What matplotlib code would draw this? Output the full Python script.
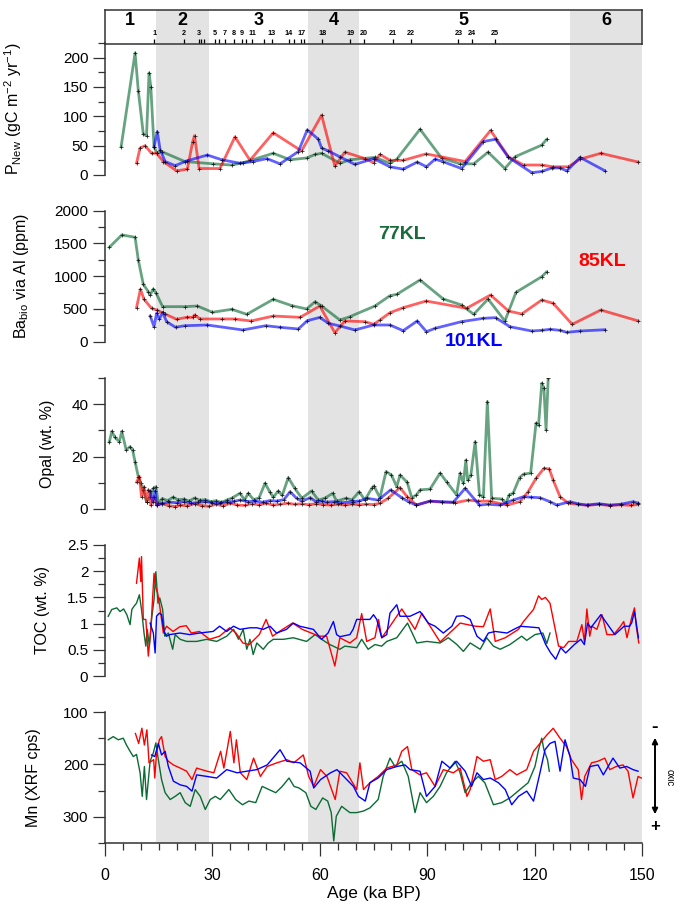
import matplotlib
matplotlib.use("Agg")
import matplotlib.pyplot as plt
from matplotlib.ticker import MultipleLocator

plt.rcParams['font.family'] = ['Liberation Sans', 'DejaVu Sans']

# ---- DATA ----
# new production
pnew77_age = [4.5, 8.4, 9.3, 10.7, 11.6, 12.3, 12.8, 13.7, 14.4, 15.8, 22.3, 30.3, 35.4, 38.6, 47.0, 51.7,
              56.3, 58.7, 60.5, 65.6, 68.4, 75.4, 79.6, 81.5, 88.0, 94.0, 99.2, 103.0, 107.0, 111.7, 114.5,
              122.0, 123.4]
pnew77 = [48, 208, 144, 70, 67, 174, 150, 48, 38, 40, 23, 19, 17, 21, 37, 26, 29, 35, 37, 20, 26, 30, 20, 27,
          78, 29, 19, 19, 39, 11, 31, 51, 61]
pnew85_age = [8.8, 9.8, 11.2, 13.0, 14.4, 16.3, 20.0, 23.0, 24.5, 25.0, 26.3, 32.1, 36.3, 40.5, 47.0, 54.9,
              60.5, 64.2, 67.0, 72.6, 75.0, 76.8, 79.6, 83.3, 89.7, 100.6, 107.7, 112.7, 116.9, 122.0, 125.2,
              129.4, 132.7, 138.5, 149.0]
pnew85 = [20, 46, 50, 37, 37, 23, 7, 10, 57, 67, 11, 11, 65, 25, 72, 41, 102, 15, 39, 28, 21, 35, 25, 25, 36,
          23, 76, 31, 17, 17, 14, 14, 27, 37, 22]
pnew101_age = [13.7, 14.6, 15.4, 16.8, 19.6, 22.8, 28.6, 32.6, 37.7, 41.4, 45.2, 48.9, 54.0, 56.5, 59.6, 60.5,
               62.4, 65.6, 69.8, 75.0, 79.6, 83.3, 87.2, 89.8, 92.2, 94.3, 99.6, 105.7, 109.1, 112.7, 119.2,
               122.0, 124.8, 127.1, 129.0, 132.7, 139.7]
pnew101 = [48, 74, 43, 23, 16, 24, 34, 26, 20, 23, 28, 19, 40, 77, 61, 46, 41, 31, 18, 28, 14, 10, 22, 14, 27,
           23, 11, 57, 61, 30, 4, 6, 12, 12, 7, 30, 7]

# Ba bio
ba77_age = [1.2, 4.7, 8.4, 9.3, 10.7, 12.1, 12.6, 13.5, 14.3, 16.1, 22.3, 25.8, 30.0, 35.4, 39.6, 47.0, 52.2,
            56.3, 58.7, 60.5, 65.6, 68.4, 75.4, 79.6, 81.5, 88.0, 94.5, 99.6, 103.0, 107.0, 111.7, 114.8,
            122.0, 123.4]
ba77 = [1441, 1630, 1594, 1248, 876, 764, 713, 805, 739, 535, 535, 545, 449, 495, 418, 647, 550, 500, 611, 545,
        331, 382, 545, 702, 723, 942, 652, 560, 418, 652, 316, 754, 993, 1069]
ba85_age = [8.8, 9.9, 10.9, 13.0, 14.4, 16.8, 20.0, 22.8, 24.5, 25.0, 26.6, 32.6, 36.3, 40.8, 47.0, 54.5, 60.0,
            64.2, 67.0, 72.6, 75.0, 76.8, 79.6, 83.3, 89.7, 101.0, 107.7, 112.7, 116.4, 122.0, 125.2, 130.5,
            138.5, 149.0]
ba85 = [519, 800, 647, 510, 484, 423, 342, 372, 372, 408, 347, 347, 347, 316, 392, 372, 545, 137, 316, 306, 265,
        331, 443, 519, 621, 510, 713, 469, 423, 637, 586, 265, 484, 316]
ba101_age = [12.6, 13.7, 14.4, 15.2, 16.1, 17.2, 19.7, 22.3, 28.6, 38.5, 44.9, 48.9, 54.0, 56.5, 60.0, 62.4,
             65.6, 69.8, 75.0, 79.6, 83.3, 87.2, 89.8, 92.2, 99.6, 105.7, 109.1, 113.1, 119.2, 122.0, 124.3,
             127.1, 129.0, 132.7, 139.7]
ba101 = [397, 229, 433, 347, 449, 306, 220, 244, 255, 179, 244, 220, 194, 321, 370, 281, 240, 179, 255, 255, 168,
         316, 153, 204, 306, 357, 367, 229, 163, 174, 189, 174, 143, 163, 183]

# opal
opal77_age = [1.2, 1.9, 2.8, 4.0, 4.7, 5.9, 7.0, 7.7, 8.4, 9.3, 10.0, 10.7, 11.6, 12.6, 13.5, 14.2, 14.9,
              16, 17.5, 19, 20.5, 22, 23.5, 25, 26.5, 28, 29.5, 31, 32.5, 34, 35.5,
              37.7, 39, 40, 41.5, 43, 44.7, 46, 47, 48.4, 49.5, 51.2, 53, 55, 57.7, 59.6, 61.5, 63.6, 64.7,
              67.3, 69, 71, 72.6, 74.5, 75.1, 76.8, 78.5, 80, 81.5, 82.4, 84.4, 85.7, 87, 88, 90.8, 93.6, 95.4,
              98.2, 99.2, 100.1, 100.8, 101.3, 102.2, 103.4, 104.6, 105.7, 106.8, 108, 110.8, 112, 112.9, 114,
              115.8, 116.9, 118.9, 120.4, 121.1, 122, 122.6, 123.2, 123.8]
opal77 = [25.5, 29.6, 27.3, 25.7, 29.6, 22.6, 23.8, 22.6, 18, 12.4, 9.8, 7.3, 2.8, 4.7, 7.9, 8.5, 2.2,
          4.0, 3.2, 4.5, 3.5, 3.8, 3.0, 4.2, 3.3, 3.6, 2.8, 3.2, 2.5, 3.4, 4.2,
          6.0, 3.5, 6.0, 3.6, 4.2, 9.8, 6.6, 4.5, 6.9, 5.2, 12, 7.9, 4.1, 6.9, 3.4, 4.2, 6.0, 3.0,
          4.1, 3.5, 6.6, 3.4, 7.9, 8.8, 4.3, 14.3, 13, 8.5, 13, 10.2, 4.3, 5.4, 7.3, 7.6, 13.7, 10.4,
          5.4, 13.7, 9.8, 18.7, 11, 13, 25.7, 5.4, 4.7, 41, 4.1, 3.8, 2.2, 5.4, 6.0,
          12, 13.3, 13.7, 32.8, 31.9, 48, 46.2, 30.2, 50]
opal85_age = [8.8, 9.6, 10.2, 10.9, 11.6, 12.1, 12.8, 13.7, 14.4,
              16, 18, 19.6, 21, 23, 25, 27, 29, 31, 33, 35, 37, 39, 41, 43, 45, 47, 49, 51, 53, 55, 57, 59, 61,
              63, 65, 67, 69, 71, 73, 75,
              76.8, 79.1, 82.4, 84.4, 87, 90.8, 94, 97.8, 101.5, 104.3, 107.5, 112.2, 115.9, 118.2, 120.4,
              122.6, 124.1, 125.2, 127.1, 129.4,
              132, 135, 138, 141, 144, 147, 149]
opal85 = [10.2, 12.4, 4.7, 8.5, 2.8, 7.3, 1.5, 4.7, 1.5,
          2.0, 1.2, 0.9, 1.5, 1.2, 2.0, 1.3, 1.0, 1.8, 1.2, 2.2, 1.5, 1.4, 2.0, 1.6, 2.2, 1.5, 1.8, 2.2, 1.8,
          2.0, 1.6, 2.0, 1.7, 1.5, 1.8, 1.5, 1.9, 1.6, 1.8, 1.7,
          2.2, 4.1, 8.2, 4.7, 1.5, 3.0, 2.6, 2.4, 3.4, 3.0, 3.0, 1.5, 2.8, 6.6, 11.7, 15.5, 15.3, 11, 4.7, 2.2,
          1.8, 1.4, 1.8, 1.3, 1.6, 1.4, 1.8]
opal101_age = [12.6, 13.3, 14.0, 14.4,
               16, 18, 20, 22, 24, 26, 28, 30, 32, 34, 36,
               37.7, 40, 42, 44, 46, 48, 50, 51.7, 53.5, 55, 57.3, 59, 60.5, 62, 64, 66,
               69.4, 71, 73.1, 76.3, 79.8, 82.9, 85, 87, 90.8, 94, 97.3, 100.6, 104.6, 107, 110.3, 114, 116.9,
               119, 121.5, 124.3, 126.2, 129.9,
               132, 134.5, 138, 141, 144, 147.6, 149]
opal101 = [6.9, 2.8, 6.9, 1.5,
           2.2, 2.6, 2.4, 2.8, 2.2, 2.5, 2.8, 2.4, 2.2, 2.6, 2.9,
           3.4, 2.8, 3.0, 2.6, 3.2, 3.0, 3.6, 6.6, 4.1, 3.0, 4.3, 2.8, 3.0, 2.6, 2.8, 2.4,
           2.8, 3.0, 4.1, 3.4, 7.3, 4.3, 2.6, 1.5, 3.0, 2.8, 2.6, 7.9, 1.5, 1.8, 1.5, 3.4, 4.7, 4.5, 4.3, 2.8,
           1.5, 2.8,
           2.0, 1.5, 2.0, 1.5, 1.8, 2.8, 2.2]

# TOC
toc77_age = [0.9, 1.9, 3.3, 4.2, 5.2, 6.1, 7.0, 7.5, 8.1, 8.8, 9.6, 10.2, 10.9, 11.4, 11.8, 12.4, 13.0, 13.7,
             14.2, 14.8, 15.3, 16.1, 16.7, 17.7, 18.9, 19.6, 21.0, 22.8, 25.6, 28.4, 31.2, 34.0, 35.9, 37.3,
             38.6, 39.6, 40.5, 41.4, 42.4, 44.2, 45.6, 47.0, 49.8, 52.6, 56.3, 58.7, 60.5, 62.8, 65.6, 67.0,
             70.3, 71.7, 73.5, 75.4, 77.3, 78.7, 81.5, 84.5, 87.1, 89.9, 93.6, 95.9, 98.3, 100.1, 102.0, 104.8,
             106.6, 108.5, 110.4, 113.1, 116.4, 117.8, 120.1, 122.3, 123.4, 124.3]
toc77 = [1.14, 1.27, 1.30, 1.23, 1.28, 1.17, 0.98, 1.27, 1.33, 1.39, 1.55, 1.27, 0.82, 0.57, 0.89, 0.57, 1.08,
         1.46, 1.99, 1.39, 1.49, 1.27, 0.76, 0.82, 0.51, 0.79, 0.70, 0.66, 0.66, 0.70, 0.66, 0.76, 0.89, 0.70,
         0.89, 0.51, 0.70, 0.41, 0.63, 0.51, 0.63, 0.70, 0.70, 0.73, 0.66, 0.79, 0.70, 0.60, 0.51, 0.57, 0.54,
         0.70, 0.51, 0.60, 0.57, 0.66, 0.73, 1.01, 0.63, 0.66, 0.63, 0.73, 0.60, 0.47, 0.63, 0.51, 0.73, 0.57,
         0.51, 0.60, 0.76, 0.68, 0.79, 0.82, 0.62, 0.82]
toc85_age = [8.8, 9.6, 10.0, 10.2, 10.7, 11.4, 12.1, 12.8, 13.7, 14.1, 14.7, 15.3, 16.3, 17.2, 19.0, 20.9, 22.7,
             24.1, 26.4, 29.2, 32.0, 34.8, 36.6, 38.5, 40.3, 43.1, 45.0, 46.8, 49.6, 52.4, 55.1, 59.8, 61.9,
             64.2, 65.6, 68.4, 70.3, 71.7, 73.1, 75.4, 76.4, 77.3, 79.6, 82.9, 86.6, 88.5, 93.6, 99.2, 103.4,
             105.7, 107.6, 109.0, 111.8, 115.5, 116.9, 119.7, 121.1, 122.0, 123.0, 124.3, 126.7, 128.1, 129.5,
             131.8, 133.2, 133.9, 134.6, 135.4, 136.0, 137.4, 138.8, 140.2, 142.1, 144.0, 144.9, 145.8, 147.2,
             147.9, 148.4, 149.1]
toc85 = [1.77, 2.25, 1.80, 2.28, 1.08, 1.08, 0.38, 0.89, 1.96, 1.71, 1.58, 1.33, 0.82, 0.95, 0.85, 0.94, 0.96,
         0.82, 0.85, 0.70, 0.76, 0.92, 0.82, 0.63, 0.60, 0.79, 1.08, 0.76, 0.89, 1.01, 0.89, 0.76, 0.76, 0.19,
         0.73, 0.63, 0.73, 1.19, 0.66, 0.73, 1.08, 0.73, 0.95, 1.28, 0.89, 1.20, 0.65, 1.01, 0.95, 0.94, 1.28,
         0.66, 0.73, 0.89, 1.04, 1.27, 1.53, 1.46, 1.50, 1.39, 0.57, 0.54, 0.66, 0.66, 0.98, 0.66, 1.28, 0.76,
         0.95, 0.89, 1.17, 0.79, 0.79, 0.95, 1.04, 0.73, 1.14, 1.30, 0.95, 0.63]
toc101_age = [12.6, 13.5, 14.0, 14.4, 15.2, 15.8, 16.5, 17.2, 18.1, 20.9, 23.7, 26.4, 30.2, 32.0, 34.0, 35.9,
              37.7, 40.5, 42.4, 44.2, 46.1, 47.9, 50.7, 52.6, 54.4, 56.3, 58.2, 60.5, 62.3, 63.8, 64.7, 65.6,
              68.4, 69.3, 70.3, 71.7, 74.0, 75.0, 75.9, 77.3, 78.7, 79.6, 81.5, 82.4, 85.2, 88.0, 90.3, 92.2,
              94.5, 96.9, 98.2, 100.1, 102.0, 103.9, 105.7, 107.1, 109.0, 112.3, 114.2, 116.0, 121.2, 123.1,
              124.5, 125.9, 127.3, 128.7, 131.1, 132.9, 133.9, 134.8, 135.7, 138.5, 139.4, 142.4, 145.0, 146.5,
              147.1, 147.9, 149.0]
toc101 = [1.01, 0.82, 0.44, 1.14, 1.20, 1.17, 0.85, 0.76, 0.79, 0.82, 0.79, 0.82, 0.85, 0.95, 0.85, 0.95, 0.89,
          0.92, 0.92, 0.89, 0.95, 0.82, 0.89, 1.01, 0.95, 0.92, 0.89, 0.70, 0.82, 1.04, 0.79, 0.75, 0.79, 0.89,
          1.08, 1.08, 1.08, 1.17, 1.08, 0.73, 0.79, 1.20, 1.36, 1.14, 1.14, 1.23, 1.01, 0.95, 0.82, 0.95, 1.14,
          1.15, 1.08, 0.76, 0.66, 0.82, 0.85, 0.82, 0.89, 0.95, 0.92, 0.60, 0.44, 0.32, 0.54, 0.44, 0.60, 0.70,
          0.60, 1.01, 0.92, 1.17, 1.08, 0.79, 0.95, 0.95, 1.01, 1.23, 0.73]

# Mn XRF
mn77_age = [0.9, 2.3, 3.7, 5.1, 6.0, 7.0, 7.9, 8.8, 9.8, 10.4, 11.0, 11.6, 12.6, 13.5, 14.2, 14.9, 15.8, 16.8,
            18.2, 19.6, 21.0, 22.4, 23.8, 25.2, 26.6, 28.0, 29.4, 30.8, 32.2, 34.6, 36.5, 38.4, 40.2, 42.1,
            43.9, 45.8, 47.7, 49.5, 51.4, 52.8, 54.2, 56.1, 57.5, 58.9, 60.8, 62.2, 63.2, 63.9, 64.6,
            66.1, 68.4, 70.3, 72.2, 74.0, 76.3, 77.7, 79.6, 81.0, 82.9, 84.7, 86.6, 88.0, 89.8, 91.7, 93.6,
            95.4, 97.8, 99.2, 100.6, 102.4, 104.3, 106.1, 108.5, 110.8, 113.1, 115.9, 118.2, 120.1, 121.1,
            122.0, 122.6, 123.6, 124.1]
mn77 = [153, 147, 153, 150, 163, 175, 185, 181, 216, 261, 204, 267, 194, 178, 159, 191, 229, 254, 267, 261, 254,
        273, 280, 248, 261, 286, 267, 261, 267, 248, 267, 277, 270, 273, 242, 248, 254, 242, 226, 242, 245, 254,
        280, 286, 264, 270, 292, 346, 299,
        280, 292, 292, 289, 283, 267, 223, 188, 204, 194, 223, 292, 254, 273, 261, 242, 216, 194, 216, 254, 235,
        223, 235, 277, 273, 264, 248, 235, 204, 172, 150, 172, 191, 213]
mn85_age = [8.5, 9.4, 10.3, 11.0, 11.7, 12.3, 13.6, 13.9, 14.4, 15.2, 15.8, 16.8, 17.7, 19.1, 21.0, 22.8, 24.3,
            25.6, 27.0, 28.5, 30.4, 32.3, 33.2, 35.0, 36.0, 36.7, 37.8, 39.6, 41.5, 43.4, 45.3, 48.0, 50.8,
            52.7, 55.4, 56.9, 58.3, 60.2, 62.0, 64.3,
            65.6, 67.5, 70.3, 71.2, 72.2, 74.0, 76.3, 78.7, 81.5, 82.9, 84.5, 85.7, 88.0, 89.8, 92.2, 94.5,
            97.3, 99.2, 101.1, 102.0, 103.9, 105.7, 107.6, 109.0, 110.8, 113.1, 115.0, 117.8, 119.7, 121.5,
            123.4, 125.2, 127.1, 128.9, 130.3, 132.2, 133.1, 134.0, 135.9, 137.7, 139.6, 141.0, 142.8, 144.7,
            146.1, 147.5, 148.9, 149.8]
mn85 = [141, 160, 131, 163, 134, 197, 191, 226, 178, 153, 147, 185, 194, 201, 207, 213, 229, 207, 210, 213, 216,
        175, 207, 137, 197, 153, 216, 229, 188, 223, 204, 197, 191, 197, 182, 223, 242, 210, 223, 267,
        213, 216, 248, 197, 248, 235, 223, 207, 201, 175, 166, 210, 220, 216, 242, 210, 216, 207, 261, 248, 185,
        194, 191, 229, 223, 210, 220, 210, 175, 160, 144, 131, 150, 166, 191, 210, 267, 223, 197, 194, 188, 210,
        204, 201, 213, 264, 223, 226]
mn101_age = [13.0, 13.9, 14.9, 15.8, 16.8, 17.7, 19.1, 21.0, 22.8, 24.3, 25.6, 28.5, 31.2, 34.0, 36.9, 39.6,
             42.4, 45.3, 48.9, 50.8, 54.5, 57.3, 58.3, 60.2, 63.0, 64.8,
             67.1, 69.4, 70.8, 72.7, 74.0, 76.3, 78.7, 81.5, 83.8, 85.2, 88.0, 89.8, 92.2, 94.1, 96.4, 98.2,
             100.6, 102.4, 103.9, 105.7, 107.6, 109.9, 111.8, 113.6, 115.5, 117.8, 119.7, 121.5, 122.9, 124.3,
             125.7, 127.1, 128.5, 129.9, 130.8, 132.7, 134.2, 135.5, 137.7, 139.2, 141.9, 143.8, 145.7, 147.5,
             148.9]
mn101 = [182, 185, 160, 182, 175, 204, 232, 239, 242, 251, 220, 223, 226, 210, 216, 213, 210, 201, 172, 194, 197,
         213, 245, 229, 216, 210,
         226, 242, 261, 270, 235, 226, 210, 204, 201, 210, 213, 261, 242, 194, 207, 194, 213, 242, 216, 229, 226,
         235, 248, 277, 261, 251, 270, 216, 172, 160, 156, 213, 153, 185, 226, 229, 242, 204, 201, 220, 188, 207,
         204, 210, 213]

# marine isotope stages (shaded = glacial) and Greenland interstadials
mis_labels = ['1', '2', '3', '4', '5', '6']
mis_centers = [7, 21.5, 43, 64, 100, 140]
mis_shaded = [(14.2, 29.0), (56.8, 71.0), (130.0, 150.0)]
gi_labels = ['1', '2', '3', '5', '7', '8', '9', '11', '13', '14', '17', '18', '19', '20', '21', '22', '23',
             '24', '25']
gi_ages = [13.8, 22.0, 26.3, 30.7, 33.5, 36.1, 38.2, 41.1, 46.6, 51.4, 54.8, 60.7, 68.5, 72.4, 80.4, 85.4,
           98.7, 102.5, 109.0]
gi_unlabelled = [26.9, 27.6, 31.8, 39.3, 44.3, 52.9, 55.7]

GREEN = '#0b6b34'
RED = '#ff0000'
BLUE = '#0000ff'

W, H = 675, 909
fig = plt.figure(figsize=(W / 100, H / 100), dpi=100)


def px_axes(top, bottom, left=105, right=642):
    return fig.add_axes([left / W, 1 - bottom / H, (right - left) / W, (bottom - top) / H])


# shading behind everything
bg = px_axes(10, 843)
bg.set_xlim(0, 150)
for a, b in mis_shaded:
    bg.axvspan(a, b, color='#e3e3e3', lw=0)
bg.axis('off')

# MIS strip
top = px_axes(10, 44)
top.set_facecolor('none')
top.set_xlim(0, 150)
top.set_ylim(0, 1)
top.set_xticks([])
top.set_yticks([])
for s in top.spines.values():
    s.set_linewidth(1.1)
    s.set_color('#333333')
for lab, c in zip(mis_labels, mis_centers):
    top.text(c, 0.68, lab, ha='center', va='center', fontsize=13, fontweight='bold')
top.vlines(gi_ages, 0, 0.14, color='k', lw=0.9)
top.vlines(gi_unlabelled, 0, 0.14, color='k', lw=0.9)
for lab, a in zip(gi_labels, gi_ages):
    top.text(a, 0.2, lab, ha='center', va='bottom', fontsize=5.2, fontweight='bold')


def style_left(ax, ymin, ymax, major, minor, label, lab_x, bottom=False):
    ax.set_facecolor('none')
    ax.set_xlim(0, 150)
    ax.set_ylim(ymin, ymax)
    for side in ['top', 'right']:
        ax.spines[side].set_visible(False)
    if not bottom:
        ax.spines['bottom'].set_visible(False)
        ax.set_xticks([])
    ax.spines['left'].set_linewidth(1.1)
    ax.spines['left'].set_color('#333333')
    ax.yaxis.set_major_locator(MultipleLocator(major))
    ax.yaxis.set_minor_locator(MultipleLocator(minor))
    ax.tick_params(axis='y', which='major', length=9, width=0.9, labelsize=11, pad=3, color='#333333')
    ax.tick_params(axis='y', which='minor', length=5, width=0.9, color='#333333')
    ax.set_ylabel(label, fontsize=11.5)
    ax.yaxis.set_label_coords(lab_x, 0.5)


def thick(ax, x, y, color):
    ax.plot(x, y, color=color, lw=2.0, alpha=0.62, solid_capstyle='round')
    ax.plot(x, y, ls='none', marker='+', ms=3.2, mew=0.6, color='k', alpha=0.8)


# P new
ax1 = px_axes(43, 175)
style_left(ax1, 0, 225, 50, 25, r'P$_{\mathregular{New}}$ (gC m$^{\mathregular{-2}}$ yr$^{\mathregular{-1}}$)', -0.15)
thick(ax1, pnew77_age, pnew77, GREEN)
thick(ax1, pnew85_age, pnew85, RED)
thick(ax1, pnew101_age, pnew101, BLUE)

# Ba bio
ax2 = px_axes(210.7, 341.7)
style_left(ax2, 0, 2000, 500, 250, r'Ba$_{\mathregular{bio}}$ via Al (ppm)', -0.137)
thick(ax2, ba77_age, ba77, GREEN)
thick(ax2, ba85_age, ba85, RED)
thick(ax2, ba101_age, ba101, BLUE)
ax2.text(83, 1630, '77KL', color='#1a6b3c', fontsize=14, fontweight='bold', ha='center', va='center')
ax2.text(139, 1217, '85KL', color=RED, fontsize=14, fontweight='bold', ha='center', va='center')
ax2.text(103, 0, '101KL', color=BLUE, fontsize=14, fontweight='bold', ha='center', va='center')

# opal
ax3 = px_axes(378, 509)
style_left(ax3, 0, 50, 20, 10, 'Opal (wt. %)', -0.093)
thick(ax3, opal77_age, opal77, GREEN)
thick(ax3, opal85_age, opal85, RED)
thick(ax3, opal101_age, opal101, BLUE)

# TOC
ax4 = px_axes(545, 676)
style_left(ax4, 0, 2.5, 0.5, 0.25, 'TOC (wt. %)', -0.102)
ax4.yaxis.set_major_formatter(matplotlib.ticker.FuncFormatter(lambda v, p: f'{v:g}'))
ax4.plot(toc77_age, toc77, color=GREEN, lw=1.0)
ax4.plot(toc85_age, toc85, color=RED, lw=1.0)
ax4.plot(toc101_age, toc101, color=BLUE, lw=1.0)

# Mn
ax5 = px_axes(712, 843)
style_left(ax5, 350, 100, 100, 50, 'Mn (XRF cps)', -0.119, bottom=True)
ax5.spines['bottom'].set_linewidth(1.1)
ax5.spines['bottom'].set_color('#333333')
ax5.xaxis.set_major_locator(MultipleLocator(30))
ax5.xaxis.set_minor_locator(MultipleLocator(5))
ax5.tick_params(axis='x', which='major', length=9, width=0.9, labelsize=11.5, pad=9, color='#333333')
ax5.tick_params(axis='x', which='minor', length=5, width=0.9, color='#333333')
ax5.set_xlabel('Age (ka BP)', fontsize=12.5, labelpad=2)
ax5.plot(mn77_age, mn77, color=GREEN, lw=1.0)
ax5.plot(mn85_age, mn85, color=RED, lw=1.0)
ax5.plot(mn101_age, mn101, color=BLUE, lw=1.0)

# redox arrow on the right
fig.text(655 / W, 1 - 727 / H, '-', ha='center', va='center', fontsize=14, fontweight='bold')
fig.text(655 / W, 1 - 826 / H, '+', ha='center', va='center', fontsize=12, fontweight='bold')
fig.text(670 / W, 1 - 778 / H, 'oxic', ha='center', va='center', fontsize=7, rotation=-90)
fig.add_artist(matplotlib.patches.FancyArrowPatch((655 / W, 1 - 735 / H), (655 / W, 1 - 817 / H),
                                                  transform=fig.transFigure, arrowstyle='<|-|>',
                                                  mutation_scale=8, lw=1.4, color='k'))

fig.savefig('out.png', dpi=100)
